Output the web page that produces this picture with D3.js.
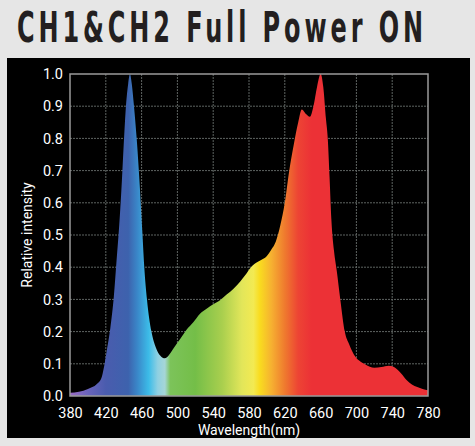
<!DOCTYPE html>
<html>
<head>
<meta charset="utf-8">
<script src="https://cdn.jsdelivr.net/npm/d3@7"></script>
<style>
  body { margin: 0; background: #e6e6e6; }
  svg { display: block; }
</style>
</head>
<body>
<div id="chart"></div>
<script>
// spectrum
const wavelengths = [380, 390, 400, 410, 415, 418, 421, 425, 429, 432, 435, 438, 440, 442.5, 445, 447,
    449, 451.5, 454.5, 458, 461, 463, 466, 471, 476, 481, 486, 490, 495, 500, 505, 510, 518, 525,
    533, 540, 548, 555, 563, 570, 577, 584, 592, 600, 605, 610, 615, 620, 625, 630, 635, 639, 644,
    648, 652, 656, 660, 663, 666, 668, 670, 672, 675, 678, 682, 687, 692, 697, 703, 710, 720, 728,
    736, 742, 750, 756, 762, 768, 774, 780];
const intensity = [0.01, 0.013, 0.022, 0.037, 0.055, 0.09, 0.14, 0.21, 0.31, 0.42, 0.53, 0.67, 0.78, 0.9, 0.97, 1.0,
    0.97, 0.9, 0.8, 0.65, 0.5, 0.4, 0.3, 0.2, 0.15, 0.125, 0.117, 0.125, 0.145, 0.165, 0.185, 0.205, 0.23, 0.255,
    0.272, 0.285, 0.298, 0.315, 0.334, 0.355, 0.38, 0.405, 0.42, 0.435, 0.455, 0.48, 0.53, 0.6, 0.7, 0.78, 0.85, 0.89, 0.875,
    0.867, 0.9, 0.96, 1.0, 0.96, 0.86, 0.8, 0.68, 0.55, 0.45, 0.39, 0.3, 0.2, 0.16, 0.13, 0.11, 0.098, 0.088, 0.09,
    0.094, 0.09, 0.07, 0.05, 0.036, 0.028, 0.022, 0.018];
const xTicks = [380, 420, 460, 500, 540, 580, 620, 660, 700, 740, 780];
const yTicks = [0, 0.1, 0.2, 0.3, 0.4, 0.5, 0.6, 0.7, 0.8, 0.9, 1.0];
const title = "CH1&CH2 Full Power ON";

const W = 475, H = 446;
const plot = { left: 70, top: 74, right: 428, bottom: 396 };

const svg = d3.select("#chart").append("svg")
    .attr("width", W)
    .attr("height", H);

svg.append("rect")
    .attr("width", W).attr("height", H)
    .attr("fill", "#e6e6e6");

// narrow, widely spaced title: squeeze glyphs, then spread them out
const squeeze = 0.62;
svg.append("text")
    .attr("transform", `translate(17, 42) scale(${squeeze}, 1)`)
    .attr("textLength", 406 / squeeze)
    .attr("lengthAdjust", "spacing")
    .style("font-family", "'DejaVu Sans Condensed', 'DejaVu Sans', sans-serif")
    .style("font-weight", "bold")
    .style("font-size", "43px")
    .attr("fill", "#231f20")
    .text(title);

// black panel
svg.append("rect")
    .attr("x", 7).attr("y", 58)
    .attr("width", 463).attr("height", 380)
    .attr("fill", "#000");

const x = d3.scaleLinear().domain([380, 780]).range([plot.left, plot.right]);
const y = d3.scaleLinear().domain([0, 1]).range([plot.bottom, plot.top]);

// grid
const grid = svg.append("g").attr("stroke", "#5e6462").attr("stroke-width", 1)
    .attr("stroke-dasharray", "2,1");
grid.selectAll(".vg").data(xTicks.slice(1, -1)).enter().append("line")
    .attr("x1", d => x(d)).attr("x2", d => x(d))
    .attr("y1", plot.top).attr("y2", plot.bottom);
grid.selectAll(".hg").data(yTicks.slice(1, -1)).enter().append("line")
    .attr("x1", plot.left).attr("x2", plot.right)
    .attr("y1", d => y(d)).attr("y2", d => y(d));

// spectrum gradient
const colorStops = [
    [380, "#9a6cc4"], [400, "#6a64bb"], [420, "#4a5cae"], [445, "#3d62ad"], [455, "#3a86c8"],
    [468, "#3cbce8"], [478, "#8fd0e2"], [486, "#a6d6d8"], [492, "#7cc35a"], [520, "#74be48"],
    [550, "#a9cf4e"], [572, "#e2e65a"], [585, "#f3ea52"], [592, "#f9dc1f"], [605, "#f6b131"],
    [620, "#ef7a2e"], [635, "#ed4434"], [650, "#ec3136"], [780, "#ec3136"]
];
const grad = svg.append("defs").append("linearGradient")
    .attr("id", "spec")
    .attr("gradientUnits", "userSpaceOnUse")
    .attr("x1", x(380)).attr("x2", x(780))
    .attr("y1", 0).attr("y2", 0);
grad.selectAll("stop").data(colorStops).enter().append("stop")
    .attr("offset", d => (d[0] - 380) / 400)
    .attr("stop-color", d => d[1]);

const data = wavelengths.map((w, i) => ({ w: w, v: intensity[i] }));
const area = d3.area()
    .x(d => x(d.w))
    .y0(y(0))
    .y1(d => y(d.v))
    .curve(d3.curveMonotoneX);

svg.append("path")
    .datum(data)
    .attr("d", area)
    .attr("fill", "url(#spec)");

// plot frame
svg.append("rect")
    .attr("x", plot.left).attr("y", plot.top)
    .attr("width", plot.right - plot.left)
    .attr("height", plot.bottom - plot.top)
    .attr("fill", "none")
    .attr("stroke", "#9a9a9a")
    .attr("stroke-width", 1.5);

// axes
const xAxis = svg.append("g")
    .attr("transform", `translate(0, ${plot.bottom})`)
    .call(d3.axisBottom(x).tickValues(xTicks).tickSize(0).tickPadding(12));
const yAxis = svg.append("g")
    .attr("transform", `translate(${plot.left}, 0)`)
    .call(d3.axisLeft(y).tickValues(yTicks).tickSize(0).tickPadding(7).tickFormat(d3.format(".1f")));
[xAxis, yAxis].forEach(a => {
    a.select(".domain").remove();
    a.selectAll("text")
        .attr("fill", "#fff")
        .style("font-family", "Roboto, sans-serif")
        .style("font-size", "14.5px");
});

svg.append("text")
    .attr("x", (plot.left + plot.right) / 2)
    .attr("y", 435)
    .attr("text-anchor", "middle")
    .attr("fill", "#fff")
    .style("font-family", "Roboto, sans-serif")
    .style("font-size", "14px")
    .text("Wavelength(nm)");

svg.append("text")
    .attr("transform", "rotate(-90)")
    .attr("x", -(plot.top + plot.bottom) / 2)
    .attr("y", 32)
    .attr("text-anchor", "middle")
    .attr("fill", "#fff")
    .style("font-family", "Roboto, sans-serif")
    .style("font-size", "14px")
    .text("Relative intensity");
</script>
</body>
</html>
